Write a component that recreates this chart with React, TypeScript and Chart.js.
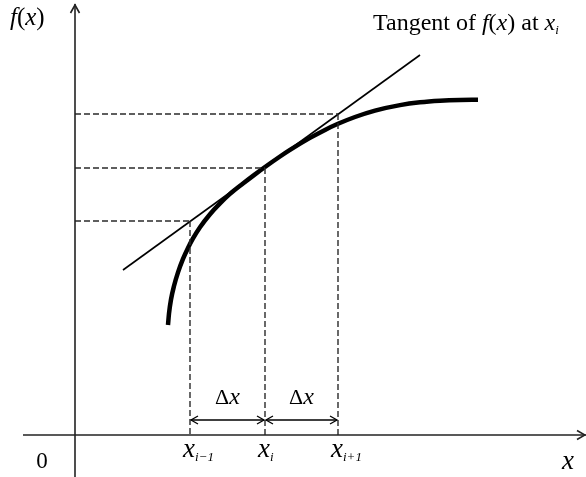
import React, { useEffect, useRef } from "react";
import { Chart, registerables } from "chart.js";

Chart.register(...registerables);

// Curve f(x) (data units: origin at the axes' crossing)
const curveX = [93, 94, 96, 99, 103, 108, 113, 118, 125, 135, 145, 155, 168, 179, 190, 205, 215, 235, 250, 263, 280, 300, 325, 345, 365, 385, 403];
const curveY = [110, 121.5, 135.5, 149, 162.6, 176.1, 187.1, 196.6, 207.8, 220.8, 231.6, 241.1, 251.5, 259.9, 268, 278.5, 285.1, 297.1, 305.1, 311.2, 318, 324.4, 329.9, 332.7, 334.3, 335.1, 335.3];

// Tangent line at x_i
const tangentX = [48, 345];
const tangentY = [165, 380];

// Grid points x_{i-1}, x_i, x_{i+1} and tangent values there
const gridX = [115, 190, 263];
const gridY = [214, 267, 321];
const tickSubs = ["i\u22121", "i", "i+1"];

// Delta-x arrows
const deltaLevel = 15;
const deltaLabelLevel = 31;
const deltaLabel = "\u0394";

// Axes extents
const xAxisRange = [-52, 511];
const yAxisRange = [-42, 431];

const SERIF = '"Liberation Serif", "Times New Roman", serif';

function drawRuns(ctx: CanvasRenderingContext2D, runs: { t: string; f: string; dy?: number }[], x: number, y: number, align: "left" | "center") {
  let total = 0;
  const widths = runs.map((r) => {
    ctx.font = r.f;
    const w = ctx.measureText(r.t).width;
    total += w;
    return w;
  });
  let cx = align === "center" ? x - total / 2 : x;
  runs.forEach((r, i) => {
    ctx.font = r.f;
    ctx.fillText(r.t, cx, y + (r.dy || 0));
    cx += widths[i];
  });
}

function openArrow(ctx: CanvasRenderingContext2D, x: number, y: number, dx: number, dy: number, len: number, half: number) {
  const px = -dy, py = dx;
  ctx.beginPath();
  ctx.moveTo(x - dx * len + px * half, y - dy * len + py * half);
  ctx.lineTo(x, y);
  ctx.lineTo(x - dx * len - px * half, y - dy * len - py * half);
  ctx.stroke();
}

const diagramPlugin = {
  id: "diagram",
  afterDatasetsDraw(chart: any) {
    const ctx: CanvasRenderingContext2D = chart.ctx;
    const xs = chart.scales.x;
    const ys = chart.scales.y;
    const X = (v: number) => xs.getPixelForValue(v);
    const Y = (v: number) => ys.getPixelForValue(v);
    ctx.save();
    ctx.lineCap = "butt";
    ctx.lineJoin = "miter";
    // axis arrowheads
    ctx.strokeStyle = "#222";
    ctx.lineWidth = 1.6;
    openArrow(ctx, X(xAxisRange[1]) - 1, Y(0), 1, 0, 8, 4.5);
    openArrow(ctx, X(0), Y(yAxisRange[1]) + 1, 0, -1, 8, 4.5);
    // delta-x arrows
    ctx.strokeStyle = "#000";
    ctx.lineWidth = 1.3;
    for (let i = 0; i < gridX.length - 1; i++) {
      const a = X(gridX[i]) + 1;
      const b = X(gridX[i + 1]) - 1;
      const yy = Y(deltaLevel);
      ctx.beginPath();
      ctx.moveTo(a, yy);
      ctx.lineTo(b, yy);
      ctx.stroke();
      openArrow(ctx, a, yy, -1, 0, 7, 4);
      openArrow(ctx, b, yy, 1, 0, 7, 4);
    }
    // texts
    ctx.fillStyle = "#000";
    ctx.textBaseline = "alphabetic";
    const it = (s: number) => `italic ${s}px ${SERIF}`;
    const rm = (s: number) => `${s}px ${SERIF}`;
    // f(x)
    drawRuns(ctx, [{ t: "f", f: it(25) }, { t: "(", f: rm(25) }, { t: "x", f: it(25) }, { t: ")", f: rm(25) }], X(-65), Y(410), "left");
    // tangent label
    drawRuns(ctx, [
      { t: "Tangent of ", f: rm(24) },
      { t: "f", f: it(24) },
      { t: "(", f: rm(24) },
      { t: "x", f: it(24) },
      { t: ") at ", f: rm(24) },
      { t: "x", f: it(24) },
      { t: "i", f: it(13), dy: 4 },
    ], X(298), Y(405), "left");
    // origin 0
    drawRuns(ctx, [{ t: "0", f: rm(23) }], X(-33), Y(-33), "center");
    // x axis label
    drawRuns(ctx, [{ t: "x", f: it(27) }], X(493), Y(-34), "center");
    // tick labels
    gridX.forEach((gx, i) => {
      ctx.font = it(27);
      const w = ctx.measureText("x").width;
      const cx = X(gx);
      ctx.fillText("x", cx - w / 2 - 1, Y(-22));
      ctx.font = it(13);
      ctx.fillText(tickSubs[i], cx + w / 2 - 1, Y(-26));
    });
    // delta labels
    for (let i = 0; i < gridX.length - 1; i++) {
      const mid = (X(gridX[i]) + X(gridX[i + 1])) / 2;
      drawRuns(ctx, [{ t: deltaLabel, f: rm(22) }, { t: "x", f: it(24) }], mid, Y(deltaLabelLevel), "center");
    }
    ctx.restore();
  },
};

export default function App() {
  const ref = useRef<HTMLCanvasElement | null>(null);
  useEffect(() => {
    document.body.style.margin = "0";
    const canvas = ref.current;
    if (!canvas) return;
    const dash = [6, 3];
    const dashColor = "#2a2a2a";
    const datasets: any[] = [];
    // axes
    datasets.push({ data: [{ x: xAxisRange[0], y: 0 }, { x: xAxisRange[1], y: 0 }], borderColor: "#222", borderWidth: 1.6 });
    datasets.push({ data: [{ x: 0, y: yAxisRange[0] }, { x: 0, y: yAxisRange[1] }], borderColor: "#222", borderWidth: 1.6 });
    // dashed guides
    gridX.forEach((gx, i) => {
      datasets.push({ data: [{ x: 0, y: gridY[i] }, { x: gx, y: gridY[i] }], borderColor: dashColor, borderWidth: 1.4, borderDash: dash });
      datasets.push({ data: [{ x: gx, y: gridY[i] }, { x: gx, y: 0 }], borderColor: dashColor, borderWidth: 1.4, borderDash: dash });
    });
    // tangent
    datasets.push({ data: tangentX.map((x, i) => ({ x, y: tangentY[i] })), borderColor: "#000", borderWidth: 1.6 });
    // curve
    datasets.push({ data: curveX.map((x, i) => ({ x, y: curveY[i] })), borderColor: "#000", borderWidth: 4.5, cubicInterpolationMode: "monotone", borderCapStyle: "butt" });
    datasets.forEach((d) => {
      d.showLine = true;
      d.pointRadius = 0;
      d.pointHoverRadius = 0;
      d.fill = false;
      d.clip = false;
    });
    const chart = new Chart(canvas, {
      type: "scatter",
      data: { datasets },
      options: {
        responsive: false,
        animation: false,
        devicePixelRatio: 1,
        layout: { padding: 0 },
        plugins: { legend: { display: false }, tooltip: { enabled: false } },
        events: [],
        scales: {
          x: { type: "linear", min: -75, max: 511, display: false },
          y: { type: "linear", min: -42, max: 435, display: false },
        },
      },
      plugins: [diagramPlugin],
    } as any);
    return () => chart.destroy();
  }, []);
  return (
    <div style={{ width: 586, height: 477, background: "#fff" }}>
      <canvas ref={ref} width={586} height={477} style={{ display: "block" }} />
    </div>
  );
}
